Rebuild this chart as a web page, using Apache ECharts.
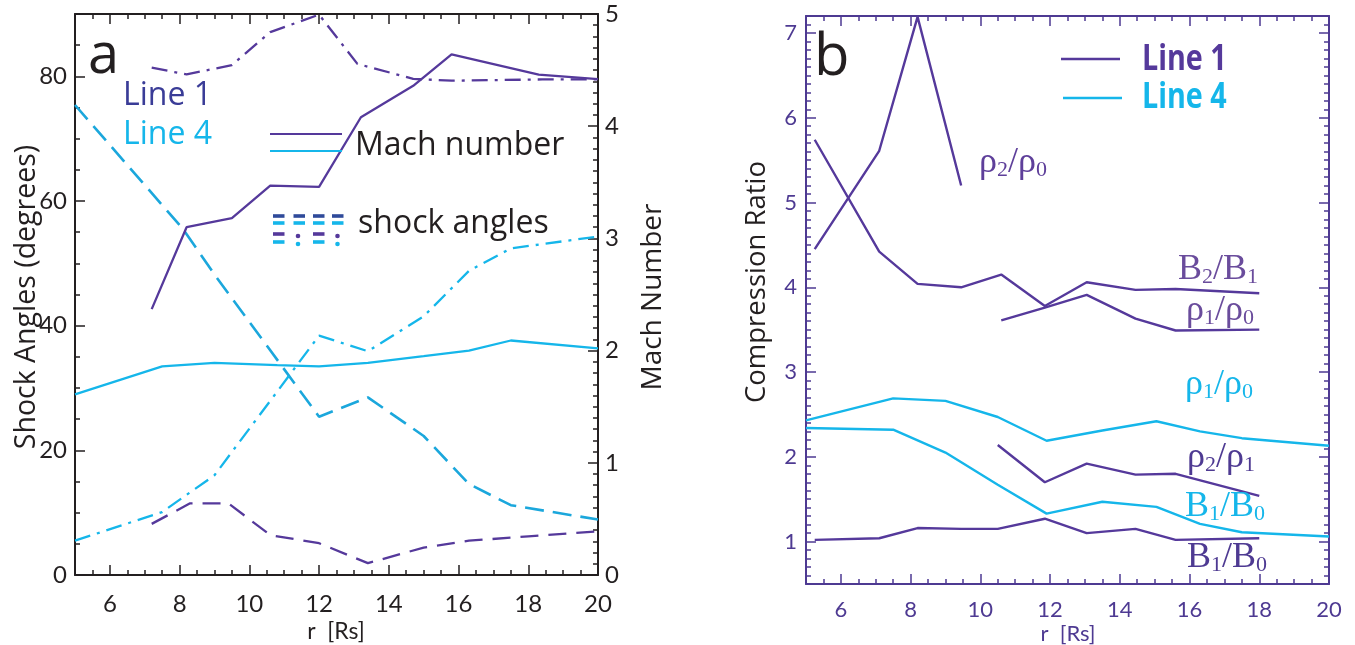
<!DOCTYPE html>
<html><head><meta charset="utf-8">
<script src="https://cdn.jsdelivr.net/npm/echarts@6/dist/echarts.min.js"></script>
<style>html,body{margin:0;padding:0;background:#fff}#c{width:1355px;height:645px}</style>
</head><body><div id="c"></div><script>
// ---------- Panel a data : [r (Rs), value] ----------
const machLine1 = [[7.2,2.37],[8.2,3.10],[9.5,3.18],[10.6,3.47],[12.0,3.46],[13.2,4.08],[14.7,4.36],[15.8,4.64],[18.3,4.46],[20,4.42]];
const machLine4 = [[5,1.61],[7.5,1.86],[9,1.89],[10.8,1.87],[12,1.86],[13.4,1.89],[15,1.95],[16.3,2.0],[17.5,2.09],[20,2.02]];
const angleDashLine1 = [[7.2,8.2],[8.3,11.5],[9.4,11.5],[10.6,6.4],[12,5.1],[13.4,1.9],[15,4.4],[16.3,5.5],[18,6.2],[20,7.0]];
const angleDashDotLine1 = [[7.2,81.4],[8.2,80.3],[9.5,81.8],[10.6,87.1],[12,89.9],[13.1,82.0],[14.7,79.6],[15.8,79.3],[18.4,79.5],[20,79.5]];
const angleDashLine4 = [[5,75.4],[8.1,55.5],[9,48.2],[12,25.4],[13.4,28.5],[15,22.3],[16.3,14.6],[17.5,11.2],[20,8.9]];
const angleDashDotLine4 = [[5,5.5],[7.5,10.1],[9,16.0],[12,38.4],[13.4,35.9],[15,41.5],[16.3,48.8],[17.5,52.4],[20,54.3]];

// ---------- Panel b data : [r (Rs), compression ratio] ----------
const rho2rho0Line1 = [[5.25,4.45],[7.1,5.61],[8.2,7.19],[9.45,5.2]];
const b2b1Line1 = [[5.25,5.74],[7.1,4.42],[8.2,4.04],[9.45,4.0],[10.6,4.15],[11.85,3.78],[13.05,4.06],[14.45,3.97],[15.6,3.98],[18,3.93]];
const rho1rho0Line1 = [[10.6,3.61],[11.85,3.76],[13.05,3.91],[14.45,3.63],[15.6,3.49],[18,3.5]];
const rho2rho1Line1 = [[10.5,2.14],[11.85,1.7],[13.05,1.92],[14.45,1.79],[15.6,1.8],[18,1.54]];
const b1b0Line1 = [[5.25,1.02],[7.1,1.04],[8.2,1.16],[9.45,1.15],[10.5,1.15],[11.85,1.27],[13.05,1.1],[14.45,1.15],[15.6,1.02],[18,1.04]];
const rho1rho0Line4 = [[5,2.43],[7.5,2.69],[9,2.66],[10.5,2.47],[11.9,2.19],[13.5,2.31],[15.05,2.42],[16.3,2.3],[17.5,2.22],[20,2.13]];
const b1b0Line4 = [[5,2.34],[7.5,2.32],[9,2.05],[10.5,1.67],[11.9,1.33],[13.5,1.47],[15.05,1.41],[16.3,1.21],[17.5,1.11],[20,1.06]];

// ---------- tick labels ----------
const rTicks = [6,8,10,12,14,16,18,20];
const angleTicks = [0,20,40,60,80];
const machTicks = [0,1,2,3,4,5];
const ratioTicks = [1,2,3,4,5,6,7];

const AX_A = '#231f20', AX_B = '#4e3a92';
const C1 = '#55399b', C4 = '#15b6ea', C4D = '#1ba7dc';
const TICKFONT = 'Lato, "Open Sans", sans-serif';
const TFONT = '"Open Sans", "Noto Sans", sans-serif';

function ax(o) {
  return Object.assign({type:'value', splitLine:{show:false}, splitArea:{show:false}}, o);
}
function pairX(grid, color, pos, labels, fs, margin) {
  const base = {gridIndex:grid, min:5, max:20, interval:0.5, position:pos};
  return [
    ax(Object.assign({}, base, {
      axisLine:{show:true, onZero:false, lineStyle:{color, width:2}},
      axisTick:{show:true, inside:true, length:5, lineStyle:{color, width:1.5}},
      axisLabel: labels ? {show:true, customValues:rTicks, color, fontSize:fs, fontFamily:TICKFONT, margin} : {show:false}
    })),
    ax(Object.assign({}, base, {
      axisLine:{show:false, onZero:false},
      axisTick:{show:true, inside:true, length:10, customValues:rTicks, lineStyle:{color, width:1.5}},
      axisLabel:{show:false}
    }))
  ];
}
function pairY(grid, color, pos, min, max, interval, ticks, labels, fs, margin) {
  const base = {gridIndex:grid, min, max, interval, position:pos};
  return [
    ax(Object.assign({}, base, {
      axisLine:{show:true, onZero:false, lineStyle:{color, width:2}},
      axisTick:{show:true, inside:true, length:5, lineStyle:{color, width:1.5}},
      axisLabel: labels ? {show:true, customValues:ticks, color, fontSize:fs, fontFamily:TICKFONT, margin} : {show:false}
    })),
    ax(Object.assign({}, base, {
      axisLine:{show:false, onZero:false},
      axisTick:{show:true, inside:true, length:10, customValues:ticks, lineStyle:{color, width:1.5}},
      axisLabel:{show:false}
    }))
  ];
}

const xAxis = [].concat(
  pairX(0, AX_A, 'bottom', true, 24, 17),   // 0,1
  pairX(0, AX_A, 'top', false),             // 2,3
  pairX(1, AX_B, 'bottom', true, 22, 15),   // 4,5
  pairX(1, AX_B, 'top', false)              // 6,7
);
const yAxis = [].concat(
  pairY(0, AX_A, 'left', 0, 90, 5, angleTicks, true, 24, 8),        // 0,1
  pairY(0, AX_A, 'right', 0, 5, 0.1, machTicks, true, 24, 7),       // 2,3
  pairY(1, AX_B, 'left', 0.5, 7.2, 0.1, ratioTicks, true, 22, 9),   // 4,5
  pairY(1, AX_B, 'right', 0.5, 7.2, 0.1, ratioTicks, false)         // 6,7
);

function ln(data, xi, yi, color, type, width) {
  return {type:'line', data, xAxisIndex:xi, yAxisIndex:yi, showSymbol:false, symbol:'none',
    silent:true, lineStyle:{color, width: width || 2, type: type || 'solid', cap:'butt'}};
}

const series = [
  ln(angleDashLine4, 0, 0, C4D, [19,9], 2.6),
  ln(angleDashDotLine4, 0, 0, C4, [16,7,3,7], 2.3),
  ln(angleDashLine1, 0, 0, C1, [18,10], 2.3),
  ln(angleDashDotLine1, 0, 0, C1, [16,7,3,7], 2.3),
  ln(machLine4, 0, 2, C4, 'solid', 2.3),
  ln(machLine1, 0, 2, C1, 'solid', 2.3),
  ln(rho1rho0Line4, 4, 4, C4, 'solid', 2.4),
  ln(b1b0Line4, 4, 4, C4, 'solid', 2.4),
  ln(rho2rho0Line1, 4, 4, C1, 'solid', 2.4),
  ln(b2b1Line1, 4, 4, C1, 'solid', 2.4),
  ln(rho1rho0Line1, 4, 4, C1, 'solid', 2.4),
  ln(rho2rho1Line1, 4, 4, C1, 'solid', 2.4),
  ln(b1b0Line1, 4, 4, C1, 'solid', 2.4)
];

function txt(x, y, text, size, color, opts) {
  opts = opts || {};
  return {type:'text', x, y, rotation: opts.rot || 0, scaleX: opts.sx || 1, silent:true, z:100,
    style:{text, fill:color, fontSize:size, fontFamily: opts.family || TFONT, fontWeight: opts.weight || 'normal',
      align: opts.align || 'left', verticalAlign:'middle'}};
}
function ratioLabel(x, y, a, s1, b, s2, color) {
  return {type:'text', x, y, silent:true, z:100,
    style:{text:'{m|' + a + '}{s|' + s1 + '}{m|/' + b + '}{s|' + s2 + '}', fill:color, align:'left', verticalAlign:'middle',
      rich:{
        m:{fontFamily:'"Liberation Serif", "DejaVu Serif", serif', fontSize:36, lineHeight:36, fill:color},
        s:{fontFamily:'"Liberation Serif", "DejaVu Serif", serif', fontSize:22, lineHeight:26, verticalAlign:'bottom', fill:color}
      }}};
}
function hline(x1, x2, y, color, w) {
  return {type:'line', silent:true, z:100, shape:{x1, y1:y, x2, y2:y}, style:{stroke:color, lineWidth:w || 2}};
}
function dash(x, y, color) {
  return {type:'rect', silent:true, z:100, shape:{x, y:y-1.8, width:11.5, height:3.6}, style:{fill:color}};
}
function dot(x, y, color) {
  return {type:'circle', silent:true, z:100, shape:{cx:x, cy:y, r:2.3}, style:{fill:color}};
}

const DB = '#2f4a9a';
const BOLDN = '"Open Sans", "Noto Sans", sans-serif';
const graphic = [
  // panel a
  txt(88, 57, 'a', 56, '#231f20'),
  txt(123, 96, 'Line 1', 32, '#3a3c97'),
  txt(123, 135, 'Line 4', 32, C4),
  hline(270, 342, 134, C1, 2),
  hline(270, 342, 151, C4, 2),
  txt(355, 146, 'Mach number', 32, '#231f20'),
  dash(273, 216, DB), dash(293.5, 216, DB), dash(313, 216, DB), dash(332, 216, DB),
  dash(273, 223, C4), dash(293.5, 223, C4), dash(313, 223, C4), dash(332, 223, C4),
  dash(273, 234, C1), dot(298, 236, C1), dash(313, 234, C1), dot(337.5, 236, C1),
  dash(273, 242, C4), dot(298, 244, C4), dash(313, 242, C4), dot(337.5, 244, C4),
  txt(358, 224, 'shock angles', 32, '#231f20'),
  txt(27, 297, 'Shock Angles (degrees)', 28.5, '#231f20', {rot:Math.PI/2, align:'center'}),
  txt(653, 297, 'Mach Number', 28, '#231f20', {rot:Math.PI/2, align:'center'}),
  txt(336, 632, 'r  [Rs]', 23, '#231f20', {family:TICKFONT, align:'center'}),
  // panel b
  txt(814, 58, 'b', 58, '#231f20'),
  hline(1061, 1120, 59, C1, 2.4),
  hline(1063, 1122, 98, C4, 2.4),
  txt(1142, 60, 'Line 1', 35, C1, {weight:'bold', family:BOLDN, sx:0.82}),
  txt(1142, 98, 'Line 4', 35, C4, {weight:'bold', family:BOLDN, sx:0.82}),
  txt(757, 282, 'Compression Ratio', 27.5, '#231f20', {rot:Math.PI/2, align:'center'}),
  txt(1068, 634, 'r  [Rs]', 22, AX_B, {family:TICKFONT, align:'center'}),
  ratioLabel(979, 163, 'ρ', '2', 'ρ', '0', '#5e3f9a'),
  ratioLabel(1178, 270, 'B', '2', 'B', '1', '#6a4c9c'),
  ratioLabel(1186, 311, 'ρ', '1', 'ρ', '0', '#6a4c9c'),
  ratioLabel(1185, 385, 'ρ', '1', 'ρ', '0', C4),
  ratioLabel(1187, 458, 'ρ', '2', 'ρ', '1', '#4e3a92'),
  ratioLabel(1185, 507, 'B', '1', 'B', '0', C4),
  ratioLabel(1187, 558, 'B', '1', 'B', '0', '#4e3a92')
];

const chart = echarts.init(document.getElementById('c'), null, {renderer:'canvas'});
chart.setOption({
  animation:false,
  backgroundColor:'#ffffff',
  grid:[
    {left:75, top:14, width:523, height:561, containLabel:false, outerBoundsMode:'none'},
    {left:806, top:16, width:523, height:568, containLabel:false, outerBoundsMode:'none'}
  ],
  xAxis, yAxis, series, graphic
});
</script></body></html>
